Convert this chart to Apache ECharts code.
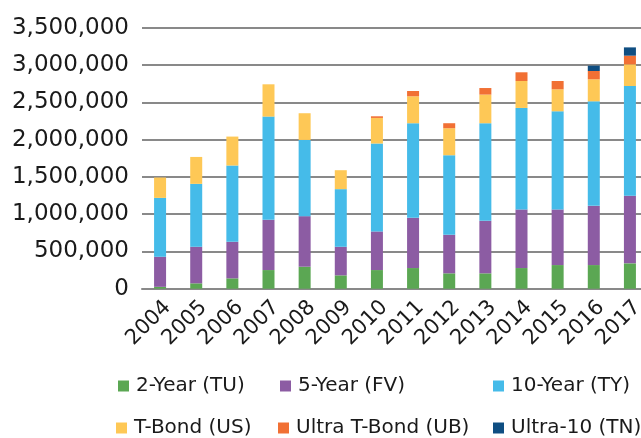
<!DOCTYPE html>
<html>
<head>
<meta charset="utf-8">
<title>Treasury futures volume</title>
<script src="https://cdn.jsdelivr.net/npm/echarts@6/dist/echarts.min.js"></script>
<style>
  html, body { margin: 0; padding: 0; background: #fff; }
  #chart { width: 641px; height: 438px; }
</style>
</head>
<body>
<div id="chart"></div>
<script>
// years on the x axis
var years = ['2004', '2005', '2006', '2007', '2008', '2009', '2010',
             '2011', '2012', '2013', '2014', '2015', '2016', '2017'];

// volume per contract
var tu = [25000, 72000, 139000, 250000, 295000, 179000, 250000, 277000, 206000, 206000, 277000, 317000, 317000, 340000];
var fv = [403000, 490000, 490000, 674000, 678000, 383000, 518000, 674000, 517000, 705000, 786000, 746000, 794000, 905000];
var ty = [790000, 844000, 1023000, 1384000, 1022000, 773000, 1179000, 1268000, 1067000, 1308000, 1361000, 1316000, 1402000, 1473000];
var us = [273000, 361000, 388000, 433000, 358000, 254000, 343000, 361000, 362000, 384000, 361000, 295000, 295000, 291000];
var ub = [0, 0, 0, 0, 0, 0, 22000, 71000, 67000, 88000, 117000, 111000, 111000, 116000];
var tn = [0, 0, 0, 0, 0, 0, 0, 0, 0, 0, 0, 0, 72000, 111000];

var seriesNames = ['2-Year (TU)', '5-Year (FV)', '10-Year (TY)', 'T-Bond (US)', 'Ultra T-Bond (UB)', 'Ultra-10 (TN)'];
var seriesData = [tu, fv, ty, us, ub, tn];
var colors = ['#5ba753', '#8c5ca3', '#45bbe9', '#fec856', '#f17034', '#0f4e82'];

// y axis ticks
var yMin = 0, yMax = 3500000, yStep = 500000;

var font = 'DejaVu Sans';
var chart = echarts.init(document.getElementById('chart'));

var series = [];
for (var i = 0; i < seriesNames.length; i++) {
    series.push({
        name: seriesNames[i],
        type: 'bar',
        stack: 'total',
        barWidth: 12,
        data: seriesData[i],
        itemStyle: { color: colors[i] }
    });
}

// legend laid out as a 3 x 2 grid, one legend per entry
var legendPos = [
    [118, 376], [280, 376], [493, 376],
    [116, 418], [278, 418], [493, 418]
];
var legends = [];
for (var j = 0; j < seriesNames.length; j++) {
    legends.push({
        data: [seriesNames[j]],
        left: legendPos[j][0],
        top: legendPos[j][1],
        padding: 0,
        icon: 'rect',
        itemWidth: 11,
        itemHeight: 11,
        selectedMode: false,
        textStyle: { fontFamily: font, fontSize: 20, color: '#1a1a1a', padding: [0, 0, 0, 2] }
    });
}

var option = {
    animation: false,
    color: colors,
    // the plot runs a bit past the right edge, the last label is cut off
    grid: { left: 142, top: 27.7, width: 506, height: 261, outerBoundsMode: 'none' },
    legend: legends,
    xAxis: {
        type: 'category',
        data: years,
        axisTick: { show: false },
        axisLine: { lineStyle: { color: '#898989', width: 2 } },
        axisLabel: {
            rotate: 45,
            margin: 8,
            interval: 0,
            verticalAlign: 'top',
            fontFamily: font,
            fontSize: 21,
            color: '#1a1a1a'
        }
    },
    yAxis: {
        type: 'value',
        min: yMin,
        max: yMax,
        interval: yStep,
        axisLine: { show: false },
        axisTick: { show: false },
        splitLine: { lineStyle: { color: '#898989', width: 2 } },
        axisLabel: {
            margin: 13,
            fontFamily: font,
            fontSize: 23,
            color: '#1a1a1a',
            formatter: function (v) { return v.toLocaleString('en-US'); }
        }
    },
    series: series
};

chart.setOption(option);
</script>
</body>
</html>
